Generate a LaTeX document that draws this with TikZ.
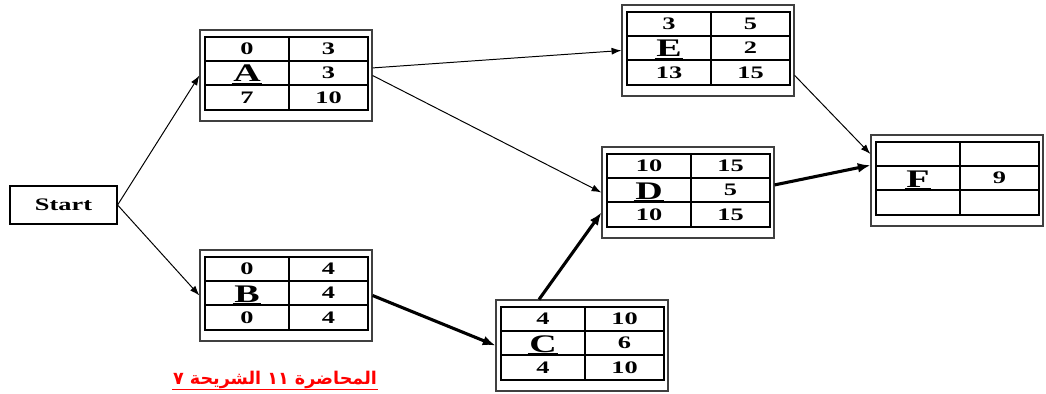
\documentclass[tikz,border=0pt]{standalone}
\usepackage{fontspec}
\setmainfont{Liberation Serif}[FakeStretch=1.5]
\newfontfamily\arabicfont[Script=Arabic]{DejaVu Sans}
\TeXXeTstate=1
\usepackage{tikz}
\usetikzlibrary{arrows.meta}

\begin{document}
\begin{tikzpicture}[x=0.025cm, y=-0.025cm,
    outerbox/.style={draw=black!75, line width=0.8pt, minimum width=4.3cm, minimum height=2.275cm, inner sep=0},
    gridline/.style={line width=1pt},
    cell/.style={font=\bfseries\fontsize{12.5}{14}\selectfont, inner sep=1pt},
    letter/.style={font=\bfseries\fontsize{18}{20}\selectfont, inner sep=1pt, anchor=base},
    thinarrow/.style={-{Latex[length=7pt,width=5pt]}, line width=0.7pt},
    thickarrow/.style={-{Latex[length=9pt,width=7pt]}, line width=2.2pt}]
    \useasboundingbox (0,0) rectangle (1046,394);

    \node[draw, line width=0.8pt, minimum width=2.675cm, minimum height=0.95cm, font=\bfseries\fontsize{12.5}{14}\selectfont] (Start) at (63.5,205) {Start};

    % activity boxes: name/left/top/ES/EF/dur/LS/LF/column line
    \foreach \n/\x/\y/\a/\b/\c/\d/\e/\w in {A/200/30/0/3/3/7/10/1pt,
        B/200/250/0/4/4/0/4/1pt,
        C/496/300/4/10/6/4/10/1pt,
        D/602/147/10/15/5/10/15/2pt,
        E/622/5/3/5/2/13/15/1pt,
        F/871/135/{}/{}/9/{}/{}/2pt} {
        \node[outerbox] (\n) at (\x+86,\y+45.5) {};
        \begin{scope}[shift={(\x,\y)}]
            \draw[gridline] (5,7) rectangle (168,80);
            \draw[gridline] (5,31) -- (168,31) (5,55) -- (168,55);
            \draw[gridline, line width=\w] (89,7) -- (89,80);
            \node[cell] at (47,19) {\a};
            \node[cell] at (128.5,19) {\b};
            \node[letter] (\n-l) at (47,52) {\n};
            \draw[line width=2pt] ([yshift=-2pt]\n-l.base west) -- ([yshift=-2pt]\n-l.base east);
            \node[cell] at (128.5,43) {\c};
            \node[cell] at (47,67.5) {\d};
            \node[cell] at (128.5,67.5) {\e};
        \end{scope}
    }

    \draw[thinarrow] (Start.east) -- (A.west);
    \draw[thinarrow] (Start.east) -- (B.west);
    \draw[thinarrow] (A.5) -- (E.west);
    \draw[thinarrow] (A.east) -- (D.west);
    \draw[thickarrow] (B.east) -- (C.west);
    \draw[thickarrow] (C.133) -- (D.193);
    \draw[thickarrow] (D.5) -- (F.170);
    \draw[thinarrow] (E.344) -- (F.163);

    \node[text=red, inner sep=0.5pt, font=\arabicfont\bfseries\fontsize{12.5}{14}\selectfont] (caption) at (275,380) {\beginR المحاضرة ١١ الشريحة ٧\endR};
    \draw[red, line width=0.9pt] (caption.south west) -- (caption.south east);
\end{tikzpicture}
\end{document}
